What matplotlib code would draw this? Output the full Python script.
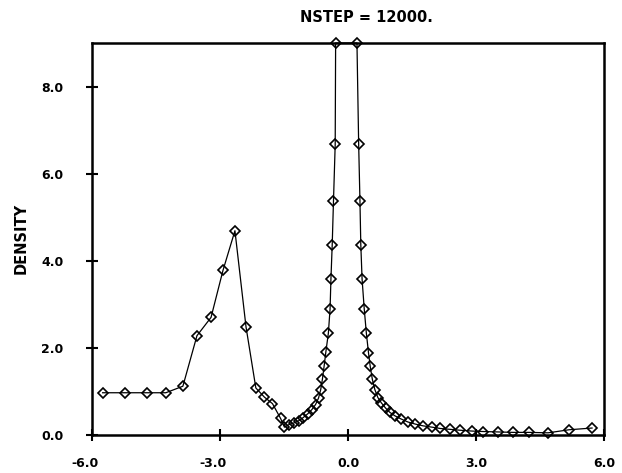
import matplotlib
matplotlib.use("Agg")
import matplotlib.pyplot as plt
from matplotlib.transforms import ScaledTranslation

# ---- data ----
x_vals = [-5.75, -5.22, -4.72, -4.27, -3.87, -3.54, -3.21, -2.93, -2.65, -2.39,
          -2.16, -1.96, -1.77, -1.58, -1.49, -1.38, -1.26, -1.15, -1.05, -0.94,
          -0.85, -0.76, -0.69, -0.64, -0.60, -0.56, -0.52, -0.46, -0.42, -0.40,
          -0.37, -0.34, -0.30, -0.29,
          0.21, 0.25, 0.28, 0.30, 0.33, 0.38, 0.43, 0.48, 0.52, 0.57,
          0.63, 0.70, 0.78, 0.88, 0.98, 1.10, 1.24, 1.40, 1.58, 1.76,
          1.97, 2.16, 2.39, 2.62, 2.91, 3.16, 3.52, 3.87, 4.24, 4.69,
          5.18, 5.72]
density = [0.97, 0.97, 0.97, 0.97, 1.12, 2.28, 2.70, 3.78, 4.69, 2.48,
           1.08, 0.87, 0.72, 0.38, 0.18, 0.24, 0.28, 0.33, 0.40, 0.49,
           0.58, 0.70, 0.85, 1.04, 1.28, 1.58, 1.90, 2.34, 2.90, 3.58,
           4.37, 5.38, 6.67, 9.00,
           9.00, 6.67, 5.38, 4.37, 3.58, 2.90, 2.34, 1.89, 1.58, 1.28,
           1.04, 0.86, 0.74, 0.62, 0.52, 0.44, 0.37, 0.30, 0.25, 0.21,
           0.18, 0.15, 0.13, 0.11, 0.09, 0.08, 0.07, 0.06, 0.06, 0.05,
           0.12, 0.16]
x_ticks = [-6.0, -3.0, 0.0, 3.0, 6.0]
x_ticklabels = ["-6.0", "-3.0", "0.0", "3.0", "6.0"]
y_ticks = [0.0, 2.0, 4.0, 6.0, 8.0]
y_ticklabels = ["0.0", "2.0", "4.0", "6.0", "8.0"]
title_text = "NSTEP = 12000."
ylabel_text = "DENSITY"

W, H = 622, 473
fig = plt.figure(figsize=(W / 100, H / 100), dpi=100)
ax = fig.add_axes([92 / W, (H - 435) / H, (604 - 92) / W, (435 - 43) / H])

ax.plot(x_vals, density, color="black", lw=0.9, marker="D", ms=5.2,
        mfc="none", mec="black", mew=1.2, clip_on=False)

ax.set_xlim(-6, 6)
ax.set_ylim(0, 9)
for s in ax.spines.values():
    s.set_linewidth(1.8)
    s.set_color("black")

ax.set_xticks(x_ticks)
ax.set_xticklabels(x_ticklabels, fontsize=9, fontweight="bold")
ax.set_yticks(y_ticks)
ax.set_yticklabels(y_ticklabels, fontsize=9, fontweight="bold")
ax.tick_params(axis="both", direction="inout", length=9, width=1.5, color="black")
ax.tick_params(axis="x", pad=11)
ax.tick_params(axis="y", pad=16)

# shift negative labels so digits centre on the tick
off = ScaledTranslation(-5 / 72, 0, fig.dpi_scale_trans)
for lab in ax.get_xticklabels():
    if lab.get_text().startswith("-"):
        lab.set_transform(lab.get_transform() + off)

fig.text(21 / W, 1 - 238 / H, ylabel_text, rotation=90, fontsize=10.5,
         fontweight="bold", ha="center", va="center")
fig.text(366 / W, 1 - 17 / H, title_text, fontsize=10.5, fontweight="bold",
         ha="center", va="center")

fig.savefig("out.png", dpi=100)
